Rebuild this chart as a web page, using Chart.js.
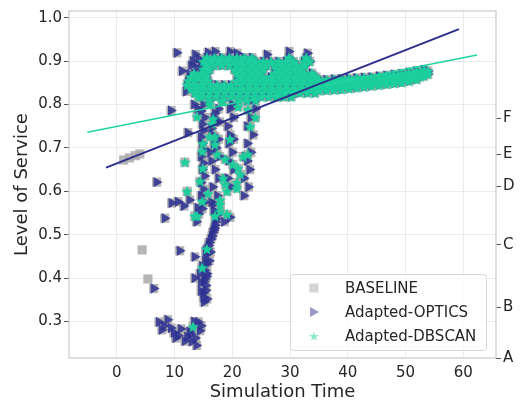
<!DOCTYPE html>
<html>
<head>
<meta charset="utf-8">
<script src="https://cdn.jsdelivr.net/npm/chart.js@4.4.0/dist/chart.umd.min.js"></script>
<style>
  html, body { margin: 0; padding: 0; background: #fff; }
</style>
</head>
<body>
<canvas id="chart" width="520" height="403"></canvas>
<script>
// ===== DATA =====
const xTicks = [0, 10, 20, 30, 40, 50, 60];
const yTicks = [0.3, 0.4, 0.5, 0.6, 0.7, 0.8, 0.9, 1.0];
const gradeLabels = ["A", "B", "C", "D", "E", "F"];
const gradeLevels = [0.216, 0.333, 0.477, 0.611, 0.685, 0.768];
const seriesNames = ["BASELINE", "Adapted-OPTICS", "Adapted-DBSCAN"];

// dense cluster shared by all three methods: [level, [times...]]
const clusterRows = [
  [.908, [15.6, 16.9, 18.2, 19.5, 20.8, 22.1, 23.4, 29.8, 32.8]],
  [.899, [15.0, 16.3, 17.6, 18.9, 20.2, 21.5, 22.8, 24.1, 25.4, 26.7, 28.0, 29.3, 30.6, 32.4, 33.4]],
  [.890, [15.6, 16.9, 18.2, 19.5, 20.8, 22.1, 23.4, 24.7, 26.0, 27.3, 28.6, 29.9, 31.2, 32.6]],
  [.881, [15.0, 16.1, 20.4, 21.5, 22.8, 24.1, 25.4, 28.0, 29.3, 30.6, 31.9]],
  [.872, [13.4, 14.7, 15.6, 20.8, 22.1, 23.4, 24.7, 27.3, 28.6, 29.9, 31.2, 32.5, 33.8]],
  [.863, [12.8, 14.1, 15.4, 21.5, 22.8, 24.1, 25.4, 26.7, 28.0, 29.3, 30.6, 31.9, 33.2, 34.5]],
  [.854, [12.4, 13.5, 14.8, 15.8, 20.8, 22.1, 23.4, 24.7, 26.0, 27.3, 28.6, 29.9, 31.2, 32.5, 33.8, 35.1]],
  [.845, [12.2, 13.5, 14.8, 16.2, 17.4, 18.6, 19.8, 21.5, 22.8, 24.1, 25.4, 26.7, 28.0, 29.3, 30.6, 31.9, 33.2, 34.5]],
  [.836, [12.8, 14.1, 15.4, 16.7, 18.0, 19.3, 20.6, 21.9, 23.2, 24.5, 25.8, 27.1, 28.4, 29.7, 31.0, 32.3, 33.6, 34.9]],
  [.827, [13.5, 14.8, 16.1, 17.4, 18.7, 20.0, 21.3, 22.6, 23.9, 25.2, 26.5, 27.8, 29.1, 30.4, 31.7, 33.0, 34.3]],
  [.818, [14.6, 15.9, 17.2, 18.5, 19.8, 21.1, 22.4, 23.7, 25.0, 26.3, 27.6, 28.9, 30.2]],
  [.809, [16.0, 18.3, 21.2, 22.6, 24.0]]
];

// later steady band shared by all three methods: [time, [levels...]]
const bandCols = [
  [35.0, [.832, .845, .857]], [35.65, [.838, .851]], [36.3, [.833, .846, .857]], [36.95, [.839, .852]],
  [37.6, [.834, .846, .858]], [38.25, [.840, .853]], [38.9, [.835, .847, .859]], [39.55, [.841, .854]],
  [40.2, [.837, .849, .860]], [40.85, [.843, .855]], [41.5, [.839, .850, .861]], [42.15, [.845, .856]],
  [42.8, [.841, .851, .862]], [43.45, [.846, .857]], [44.1, [.843, .853, .863]], [44.75, [.848, .859]],
  [45.4, [.845, .855, .865]], [46.05, [.850, .861]], [46.7, [.847, .857, .867]], [47.35, [.852, .863]],
  [48.0, [.849, .859, .869]], [48.65, [.854, .865]], [49.3, [.851, .861, .871]], [49.95, [.857, .867]],
  [50.6, [.854, .864, .874]], [51.25, [.860, .870]], [51.9, [.858, .868, .877]], [52.55, [.864, .873]],
  [53.2, [.866, .874, .880]], [53.85, [.870, .877]]
];

// OPTICS-only points (scattered streaks below the cluster)
const opticsPts = [
  [10.4,.919],[11.3,.877],[9.4,.786],[6.9,.621],[8.3,.538],[10.9,.463],[6.4,.376],[12.3,.735],[9.5,.573],
  [10.6,.576],[11.6,.566],
  [7.3,.299],[8.8,.304],[7.8,.281],[9.9,.274],[11.1,.283],[12.2,.265],[13.0,.254],[14.1,.299],[14.4,.279],
  [12.6,.277],[10.6,.268],[13.6,.262],[8.2,.290],[9.4,.285],[10.2,.262],[11.8,.255],[12.8,.272],[13.8,.245],
  [14.6,.290],[13.4,.300],
  [15.1,.345],[15.6,.352],[15.0,.366],[15.4,.383],[15.2,.398],[15.6,.410],[14.8,.428],[15.3,.440],[15.6,.455],
  [15.7,.468],[16.0,.482],[16.5,.497],[16.8,.510],[17.0,.522],[17.2,.536],[16.8,.556],[17.5,.550],[13.5,.400],
  [13.5,.449],[18.6,.530],[19.6,.540],[13.8,.530],[14.2,.548],[14.0,.562],[12.6,.580],[16.4,.575],
  [15.0,.356],[15.4,.372],[15.1,.392],[15.5,.404],[15.2,.418],[15.6,.432],[15.4,.462],[15.9,.475],[16.3,.490],
  [16.6,.505],[16.9,.515],[17.1,.530],[17.3,.545],[14.6,.370],[14.6,.390],[14.4,.410],[16.0,.440],[16.2,.460],
  [14.8,.560],[15.2,.575],[14.6,.590],[15.0,.605],[14.6,.620],[15.2,.635],[14.8,.650],[15.0,.665],[14.6,.680],
  [15.2,.695],[14.8,.710],[14.6,.725],[15.0,.740],[14.8,.755],[15.2,.770],[14.6,.785],[15.0,.800],
  [16.8,.570],[17.4,.590],[16.6,.610],[17.6,.630],[17.0,.650],[16.4,.670],[17.8,.680],[16.8,.710],[17.6,.720],
  [16.6,.730],[17.2,.760],[16.8,.770],[17.6,.790],[16.2,.690],[17.2,.700],[16.4,.745],[17.8,.760],[17.0,.780],
  [19.8,.610],[19.2,.630],[20.2,.650],[19.4,.670],[20.0,.690],[19.4,.710],[20.2,.720],[19.6,.730],[19.2,.750],
  [20.2,.770],[19.6,.790],[20.0,.800],
  [22.0,.590],[22.8,.610],[22.0,.630],[23.0,.650],[22.6,.670],[22.2,.680],[23.2,.690],[22.6,.710],[23.6,.730],
  [22.6,.750],[23.2,.770],[24.0,.790],[23.4,.810],
  [13.6,.915],[13.2,.900],[14.2,.905],[13.8,.885],[14.6,.890],[14.0,.870],[12.9,.890],[12.6,.870],[12.0,.830],
  [13.4,.800],[14.0,.790],
  [15.8,.920],[17.0,.922],[19.6,.922],[20.8,.918],[26.0,.915],[29.8,.922],[33.0,.918]
];

// DBSCAN-only points
const dbscanPts = [
  [13.9,.772],[16.7,.767],[16.1,.726],[17.0,.726],[17.0,.708],[14.9,.710],[17.4,.685],[18.8,.674],[14.4,.623],
  [18.8,.616],[19.1,.600],[20.8,.607],[12.2,.600],[14.8,.577],[17.9,.570],[11.8,.667],[14.9,.653],[15.8,.595],
  [13.9,.543],[18.4,.630],[17.9,.554],[17.0,.543],[19.1,.547],[21.0,.653],[21.4,.639],[20.8,.620],[21.9,.680],
  [22.7,.685],[17.9,.580],[13.5,.543],[15.6,.467],[14.8,.424],[13.2,.288],[16.5,.756],[14.8,.692],[19.6,.720],
  [20.1,.662],[22.7,.788],[23.1,.749],[24.0,.770],[16.1,.800],[14.1,.818],[18.2,.807],[21.0,.795]
];

// BASELINE-only points
const baselinePts = [
  [1.2,.672],[2.2,.677],[3.2,.682],[4.0,.686],[4.4,.465],[5.4,.398],[14.8,.695],[15.0,.680]
];

// fitted trend lines (end points)
const opticsFit = [[-1.85, 0.6545], [59.25, 0.9735]];
const dbscanFit = [[-5.09, 0.736], [62.37, 0.914]];

// ===== STYLE =====
const FONT = "'DejaVu Sans', sans-serif";
const TEXT = "#262626";
const GRID = "#ebebeb";
const NAVY = "rgba(46,49,146,0.85)";
const GREEN = "rgb(28,207,157)";
const GRAY = "rgba(169,169,169,0.85)";
const X_MIN = -8.26, X_MAX = 65.66, Y_MIN = 0.216, Y_MAX = 1.0153;

const toXY = arr => arr.map(p => ({ x: p[0], y: p[1] }));
const sharedPts = [];
clusterRows.forEach(([y, xs]) => xs.forEach(x => sharedPts.push([x, y])));
bandCols.forEach(([x, ys]) => ys.forEach(y => sharedPts.push([x, y])));

function makeStar(size, color, inner) {
  const c = document.createElement("canvas");
  c.width = c.height = size;
  const g = c.getContext("2d");
  const ro = size / 2, ri = ro * inner;
  g.beginPath();
  for (let i = 0; i < 10; i++) {
    const r = i % 2 ? ri : ro;
    const a = -Math.PI / 2 + i * Math.PI / 5;
    g.lineTo(ro + r * Math.cos(a), ro + 0.6 + r * Math.sin(a));
  }
  g.closePath();
  g.fillStyle = color;
  g.fill();
  return c;
}
const starImg = makeStar(12, GREEN, 0.46);

// ===== PLUGINS =====
const frame = {
  id: "frame",
  beforeDatasetsDraw(chart) {
    const { ctx, chartArea: a } = chart;
    ctx.save();
    ctx.strokeStyle = "#cccccc";
    ctx.lineWidth = 1.25;
    ctx.strokeRect(a.left, a.top, a.right - a.left, a.bottom - a.top);
    ctx.restore();
  }
};

const boxLegend = {
  id: "boxLegend",
  afterDraw(chart) {
    const ctx = chart.ctx;
    ctx.save();
    const bx = 290.5, by = 274.5, bw = 196, bh = 76, r = 3;
    ctx.beginPath();
    ctx.roundRect(bx, by, bw, bh, r);
    ctx.fillStyle = "rgba(255,255,255,0.8)";
    ctx.fill();
    ctx.strokeStyle = "#d6d6d6";
    ctx.lineWidth = 1;
    ctx.stroke();

    const rows = [288, 312, 336];
    const mx = 314;
    // square
    ctx.fillStyle = "rgba(169,169,169,0.5)";
    ctx.fillRect(mx - 4.5, rows[0] - 4.5, 9, 9);
    // triangle pointing right
    ctx.fillStyle = "rgba(46,49,146,0.5)";
    ctx.beginPath();
    ctx.moveTo(mx + 5, rows[1]);
    ctx.lineTo(mx - 4, rows[1] - 5);
    ctx.lineTo(mx - 4, rows[1] + 5);
    ctx.closePath();
    ctx.fill();
    // star
    ctx.globalAlpha = 0.5;
    ctx.drawImage(makeStar(10, GREEN, 0.42), mx - 5, rows[2] - 5);
    ctx.globalAlpha = 1;

    ctx.fillStyle = TEXT;
    ctx.font = "15px " + FONT;
    ctx.textBaseline = "middle";
    seriesNames.forEach((n, i) => ctx.fillText(n, 345, rows[i] + 1));
    ctx.restore();
  }
};

// ===== CHART =====
new Chart(document.getElementById("chart"), {
  type: "scatter",
  data: {
    datasets: [
      {
        label: seriesNames[0],
        data: toXY(sharedPts.concat(opticsPts, dbscanPts, baselinePts)),
        pointStyle: "rect", pointRadius: 6.5, backgroundColor: GRAY, borderWidth: 0, order: 3
      },
      {
        label: seriesNames[1],
        data: toXY(sharedPts.concat(opticsPts)),
        pointStyle: "triangle", rotation: 90, pointRadius: 6, backgroundColor: NAVY, borderWidth: 0, order: 2
      },
      {
        label: seriesNames[2],
        data: toXY(sharedPts.concat(dbscanPts)),
        pointStyle: starImg, backgroundColor: GREEN, borderWidth: 0, order: 1
      },
      {
        type: "line", label: "optics-fit", data: toXY(opticsFit),
        borderColor: "#2b2f8c", borderWidth: 2, pointRadius: 0, order: 0
      },
      {
        type: "line", label: "dbscan-fit", data: toXY(dbscanFit),
        borderColor: "#1fd4a0", borderWidth: 1.6, pointRadius: 0, order: 0
      }
    ]
  },
  options: {
    responsive: false,
    animation: false,
    events: [],
    layout: { padding: { top: 9, left: 0, right: 0, bottom: 0 } },
    plugins: { legend: { display: false }, tooltip: { enabled: false } },
    scales: {
      x: {
        type: "linear", min: X_MIN, max: X_MAX,
        afterBuildTicks: s => { s.ticks = xTicks.map(v => ({ value: v })); },
        afterFit: s => { s.height = 45; },
        grid: { color: GRID, drawTicks: false },
        border: { display: false },
        ticks: { font: { family: FONT, size: 15 }, color: TEXT, padding: 6, autoSkip: false, maxRotation: 0 },
        title: { display: true, text: "Simulation Time", font: { family: FONT, size: 18 }, color: TEXT, padding: 0 }
      },
      y: {
        type: "linear", position: "left", min: Y_MIN, max: Y_MAX,
        afterBuildTicks: s => { s.ticks = yTicks.map(v => ({ value: v })); },
        afterFit: s => { s.width = 69; },
        grid: { color: GRID, tickLength: 5, tickColor: "#555555" },
        border: { display: false },
        ticks: { font: { family: FONT, size: 15 }, color: TEXT, padding: 2, autoSkip: false, callback: v => v.toFixed(1) },
        title: { display: true, text: "Level of Service", font: { family: FONT, size: 18 }, color: TEXT, padding: { top: 12, bottom: 0 } }
      },
      grade: {
        type: "linear", position: "right", min: Y_MIN, max: Y_MAX,
        afterBuildTicks: s => { s.ticks = gradeLevels.map(v => ({ value: v })); },
        afterFit: s => { s.width = 24; },
        grid: { drawOnChartArea: false, tickLength: 5, tickColor: "#555555" },
        border: { display: false },
        ticks: { font: { family: FONT, size: 15 }, color: TEXT, padding: 2, autoSkip: false,
                 callback: (v, i) => gradeLabels[i] }
      }
    }
  },
  plugins: [frame, boxLegend]
});
</script>
</body>
</html>
